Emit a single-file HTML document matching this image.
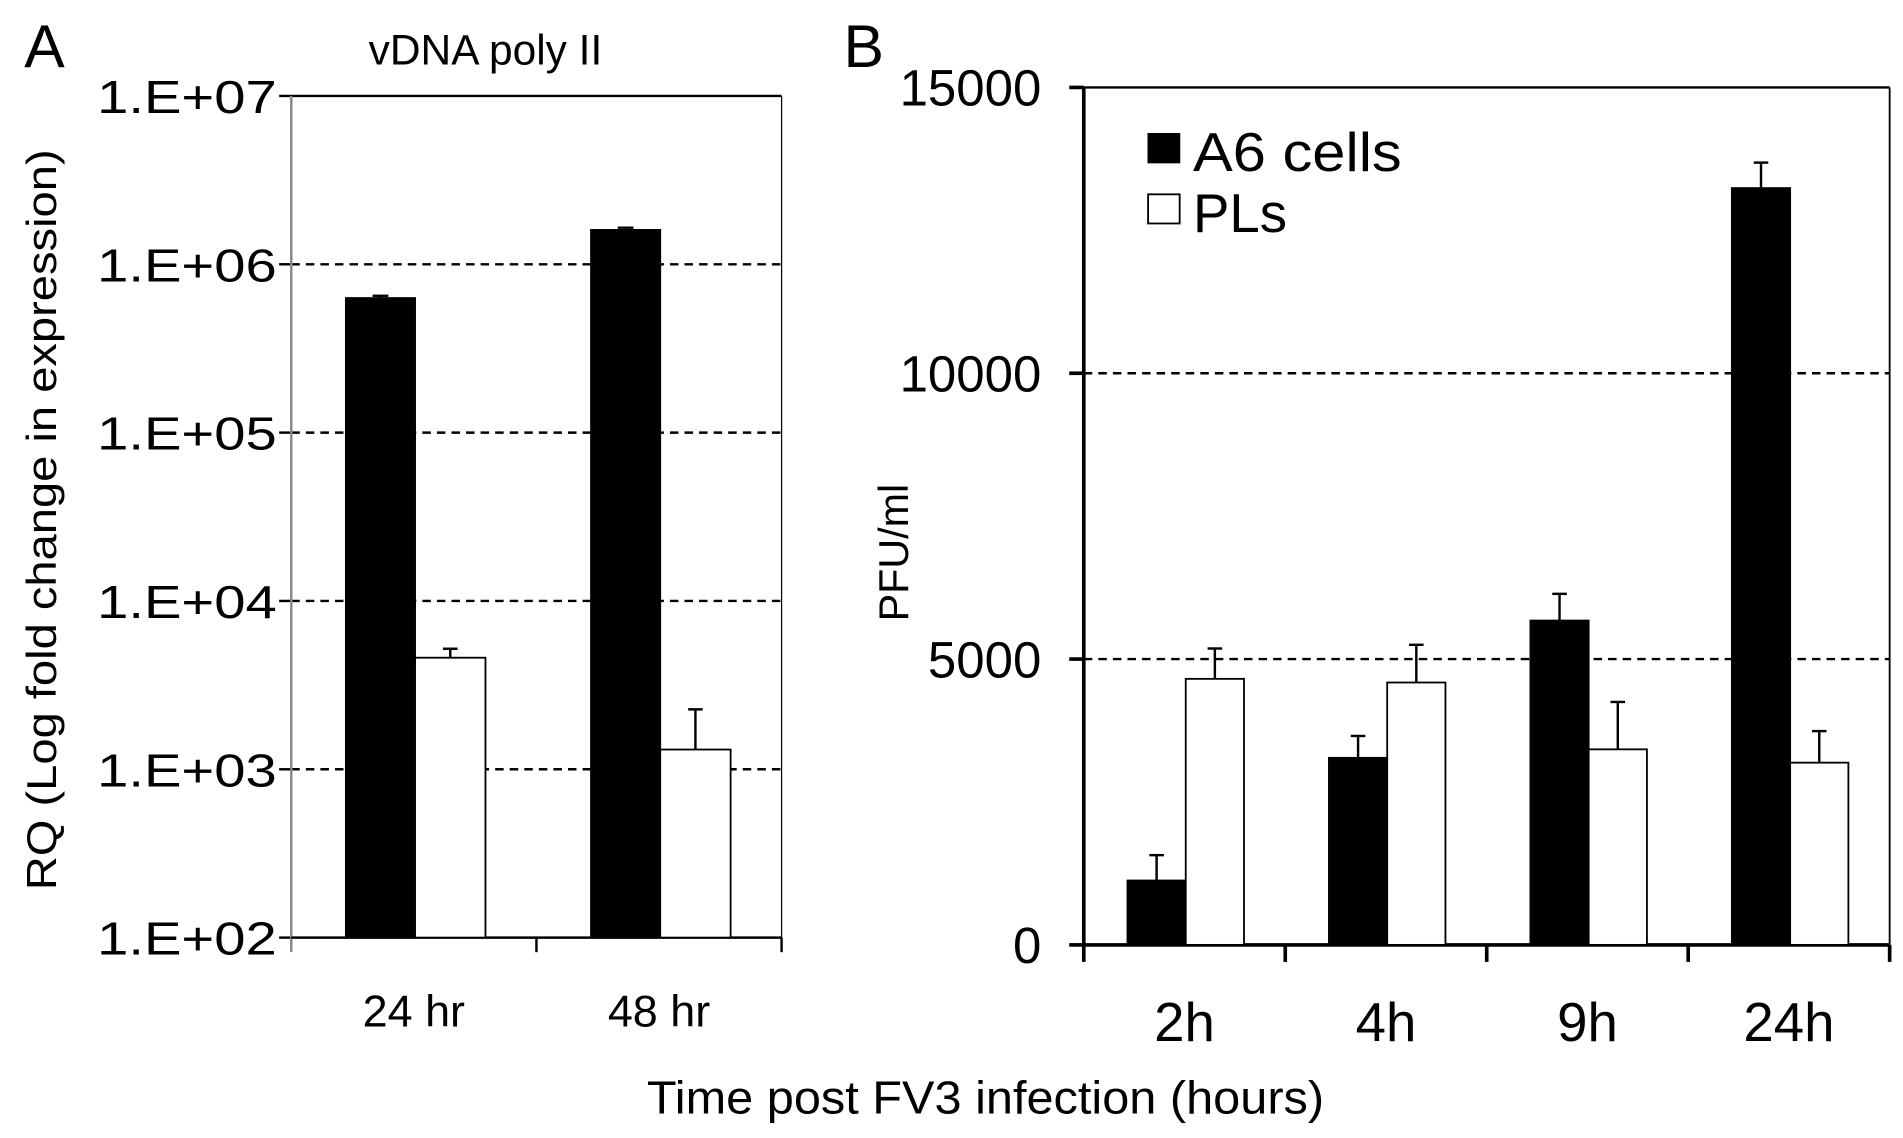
<!DOCTYPE html>
<html><head><meta charset="utf-8"><style>html,body{margin:0;padding:0;background:#fff}svg{display:block}text{font-family:"Liberation Sans",sans-serif;fill:#000}</style></head>
<body>
<svg id="c" width="1903" height="1138" viewBox="0 0 1568 937" preserveAspectRatio="none" xmlns="http://www.w3.org/2000/svg"></svg>
<script>
// Panel A data
const catsA = ["24 hr", "48 hr"];
const a6A = [630000, 1600000];
const a6AErr = [650000, 1650000];
const plA = [4600, 1310];
const plAErr = [5200, 2270];
const ticksA = ["1.E+02","1.E+03","1.E+04","1.E+05","1.E+06","1.E+07"];
// Panel B data
const catsB = ["2h", "4h", "9h", "24h"];
const a6B = [1126, 3272, 5674, 13239];
const a6BErr = [1570, 3655, 6141, 13685];
const plB = [4654, 4590, 3421, 3188];
const plBErr = [5185, 5250, 4250, 3740];
const ticksB = [0, 5000, 10000, 15000];

const svg = document.getElementById('c');
const NS = "http://www.w3.org/2000/svg";
function el(tag, attrs, parent) {
  const e = document.createElementNS(NS, tag);
  for (const k in attrs) e.setAttribute(k, attrs[k]);
  (parent || svg).appendChild(e);
  return e;
}
function txt(s, x, y, size, anchor, name, extra) {
  const t = el('text', Object.assign({x: x, y: y, 'font-size': size, 'text-anchor': anchor || 'start'}, extra || {}));
  t.textContent = s;
  
  
  return t;
}

// ---- Panel A ----
const AL = 240, AR = 644, AT = 79, AB = 772;
const yA = v => AB - (Math.log10(v) - 2) / 5 * (AB - AT);
const bwA = (AR - AL) / catsA.length;
txt("A", 20, 55, 50, 'start', 'panel-a-label');
txt("vDNA poly II", 400, 53, 35, 'middle', 'panel-a-title');
ticksA.forEach((t, i) => {
  const y = yA(Math.pow(10, i + 2));
  if (i > 0 && i < 5) {
    const g = el('line', {x1: AL, x2: AR, y1: y, y2: y, stroke: '#000', 'stroke-width': 2, 'stroke-dasharray': '7,5'});
    
    
  }
  el('line', {x1: AL - 10, x2: AL, y1: y, y2: y, stroke: '#000', 'stroke-width': 2});
  txt(t, 228, y + 14, 38, 'end', 'y-tick-a', {textLength: 148, lengthAdjust: 'spacingAndGlyphs'});
});
el('line', {x1: AL, x2: AR, y1: AT, y2: AT, stroke: '#000', 'stroke-width': 2});
el('line', {x1: AR, x2: AR, y1: AT, y2: AB, stroke: '#000', 'stroke-width': 1});
el('line', {x1: AL, x2: AL, y1: AT, y2: AB + 12, stroke: '#888', 'stroke-width': 2});
el('line', {x1: AL, x2: AR, y1: AB, y2: AB, stroke: '#000', 'stroke-width': 2});
catsA.forEach((c, i) => {
  const x0 = AL + bwA * (i + 1);
  el('line', {x1: x0, x2: x0, y1: AB, y2: AB + 12, stroke: '#000', 'stroke-width': 2});
  const cx = AL + bwA * (i + 0.5);
  const bw = 57;
  const b1 = el('rect', {x: cx - 56, y: yA(a6A[i]), width: bw, height: AB - yA(a6A[i]), fill: '#000', stroke: '#000', 'stroke-width': 1.5});
  
  
  el('line', {x1: cx - 27.5, x2: cx - 27.5, y1: yA(a6A[i]), y2: yA(a6AErr[i]), stroke: '#000', 'stroke-width': 2});
  el('line', {x1: cx - 34, x2: cx - 21, y1: yA(a6AErr[i]), y2: yA(a6AErr[i]), stroke: '#000', 'stroke-width': 2});
  const b2 = el('rect', {x: cx + 1, y: yA(plA[i]), width: bw + 1, height: AB - yA(plA[i]), fill: '#fff', stroke: '#000', 'stroke-width': 1.5});
  
  
  el('line', {x1: cx + 30, x2: cx + 30, y1: yA(plA[i]), y2: yA(plAErr[i]), stroke: '#000', 'stroke-width': 2});
  el('line', {x1: cx + 24, x2: cx + 36, y1: yA(plAErr[i]), y2: yA(plAErr[i]), stroke: '#000', 'stroke-width': 2});
  txt(c, cx, 845, 37, 'middle', 'x-tick-a');
});
txt("RQ (Log fold change in expression)", 0, 0, 34, 'middle', 'y-axis-title-a', {transform: 'translate(46,428) rotate(-90)', textLength: 610, lengthAdjust: 'spacingAndGlyphs'});

// ---- Panel B ----
const BL = 893, BR = 1557, BT = 72, BB = 778;
const yB = v => BB - v / 15000 * (BB - BT);
const bwB = (BR - BL) / catsB.length;
txt("B", 695, 55, 50, 'start', 'panel-b-label');
ticksB.forEach(t => {
  const y = yB(t);
  if (t > 0 && t < 15000) {
    const g = el('line', {x1: BL, x2: BR, y1: y, y2: y, stroke: '#000', 'stroke-width': 2, 'stroke-dasharray': '7,5'});
    
    
  }
  el('line', {x1: BL - 12, x2: BL, y1: y, y2: y, stroke: '#000', 'stroke-width': 3});
  txt(String(t), 858, y + 15, 42, 'end', 'y-tick-b');
});
el('line', {x1: BL, x2: BR, y1: BT, y2: BT, stroke: '#000', 'stroke-width': 2});
el('line', {x1: BR, x2: BR, y1: BT, y2: BB, stroke: '#000', 'stroke-width': 1.5});
el('line', {x1: BL, x2: BL, y1: BT, y2: BB + 14, stroke: '#000', 'stroke-width': 3});
el('line', {x1: BL, x2: BR, y1: BB, y2: BB, stroke: '#000', 'stroke-width': 3});
catsB.forEach((c, i) => {
  const x0 = BL + bwB * (i + 1);
  el('line', {x1: x0, x2: x0, y1: BB, y2: BB + 14, stroke: '#000', 'stroke-width': 3});
  const cx = BL + bwB * (i + 0.5);
  const bw = 48;
  const b1 = el('rect', {x: cx - 47, y: yB(a6B[i]), width: bw, height: BB - yB(a6B[i]), fill: '#000', stroke: '#000', 'stroke-width': 1.5});
  
  
  el('line', {x1: cx - 23, x2: cx - 23, y1: yB(a6B[i]), y2: yB(a6BErr[i]), stroke: '#000', 'stroke-width': 2});
  el('line', {x1: cx - 29, x2: cx - 17, y1: yB(a6BErr[i]), y2: yB(a6BErr[i]), stroke: '#000', 'stroke-width': 2});
  const b2 = el('rect', {x: cx + 1, y: yB(plB[i]), width: bw, height: BB - yB(plB[i]), fill: '#fff', stroke: '#000', 'stroke-width': 1.5});
  
  
  el('line', {x1: cx + 25, x2: cx + 25, y1: yB(plB[i]), y2: yB(plBErr[i]), stroke: '#000', 'stroke-width': 2});
  el('line', {x1: cx + 19, x2: cx + 31, y1: yB(plBErr[i]), y2: yB(plBErr[i]), stroke: '#000', 'stroke-width': 2});
  txt(c, cx, 857, 45, 'middle', 'x-tick-b');
});
txt("PFU/ml", 0, 0, 34, 'middle', 'y-axis-title-b', {transform: 'translate(748,455) rotate(-90)'});
// legend
const lg = el('g', {});


el('rect', {x: 946, y: 110, width: 26, height: 24, fill: '#000', stroke: '#000'}, lg);
el('rect', {x: 946, y: 160, width: 26, height: 24, fill: '#fff', stroke: '#000', 'stroke-width': 1.5}, lg);
txt("A6 cells", 983, 141, 45, 'start', 'legend-a6', {textLength: 172, lengthAdjust: 'spacingAndGlyphs'});
txt("PLs", 983, 191, 45, 'start', 'legend-pl');

txt("Time post FV3 infection (hours)", 812, 917, 38, 'middle', 'x-axis-title', {textLength: 558, lengthAdjust: 'spacingAndGlyphs'});
</script>
</body></html>
